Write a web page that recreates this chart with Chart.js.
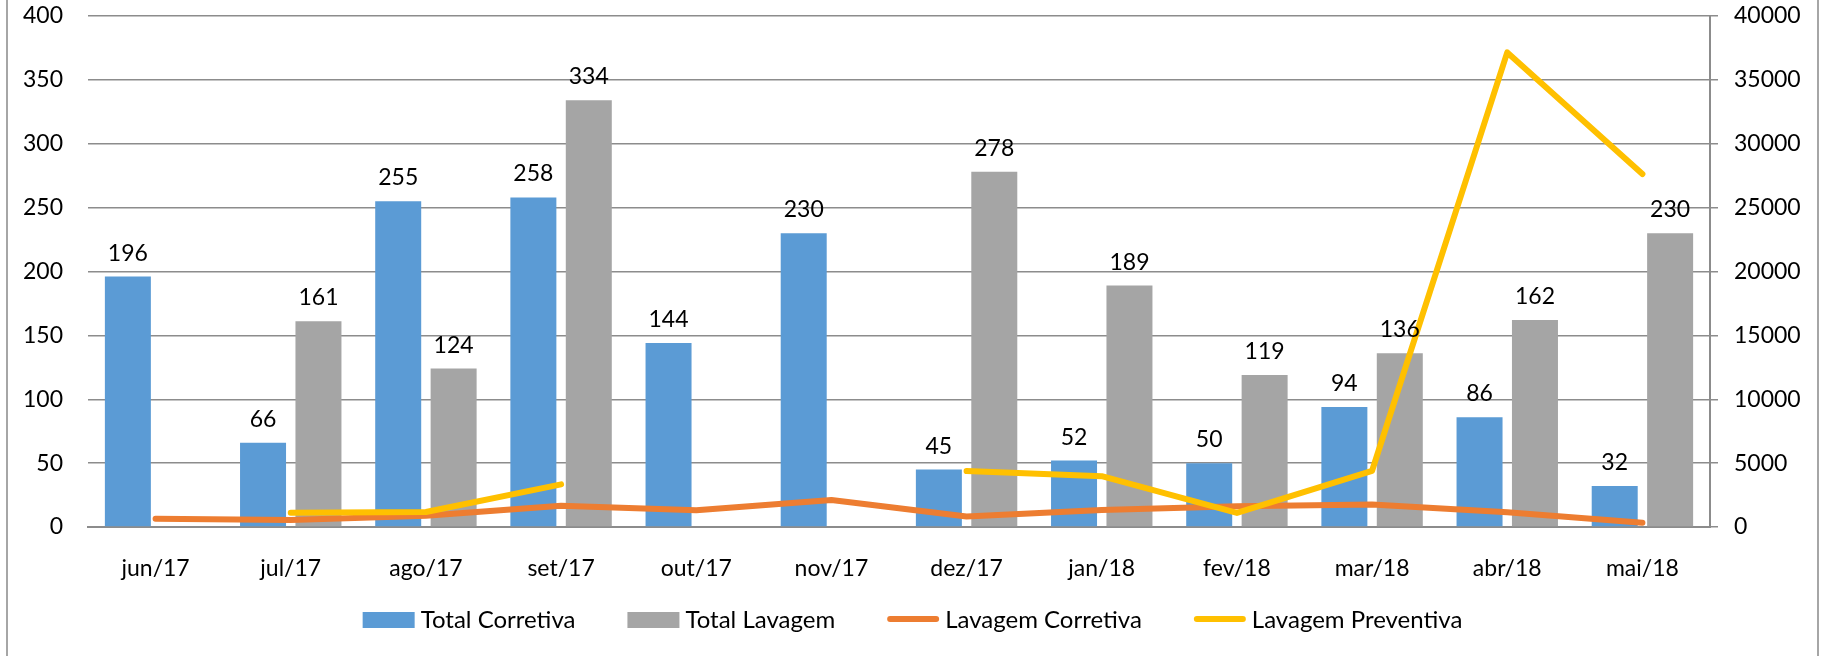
<!DOCTYPE html>
<html>
<head>
<meta charset="utf-8">
<script src="https://cdn.jsdelivr.net/npm/chart.js@4.4.1/dist/chart.umd.min.js"></script>
<style>
  html, body { margin: 0; padding: 0; background: #fff; }
  #wrap { width: 1825px; height: 656px; }
</style>
</head>
<body>
<div id="wrap"><canvas id="grafico" width="1825" height="656"></canvas></div>
<script>
// dados
const meses = ['jun/17','jul/17','ago/17','set/17','out/17','nov/17','dez/17','jan/18','fev/18','mar/18','abr/18','mai/18'];
const totalCorretiva = [196, 66, 255, 258, 144, 230, 45, 52, 50, 94, 86, 32];
const totalLavagem = [null, 161, 124, 334, null, null, 278, 189, 119, 136, 162, 230];
const lavagemCorretiva = [650, 550, 880, 1670, 1310, 2110, 830, 1330, 1620, 1760, 1160, 340];
const lavagemPreventiva = [null, 1120, 1170, 3340, null, null, 4380, 3980, 1100, 4400, 37150, 27630];

const ticksEsq = { min: 0, max: 400, step: 50 };
const ticksDir = { min: 0, max: 40000, step: 5000 };

const FONTE = 'Lato, "Liberation Sans", sans-serif';
const CINZA_GRADE = '#8c8c8c';

// rotulos de valor em cima das barras
const rotulosBarras = {
  id: 'rotulosBarras',
  afterDatasetsDraw(chart) {
    const ctx = chart.ctx;
    ctx.save();
    ctx.font = '23px ' + FONTE;
    ctx.fillStyle = '#000';
    ctx.textAlign = 'center';
    ctx.textBaseline = 'alphabetic';
    chart.data.datasets.forEach((ds, i) => {
      if (ds.type !== 'bar') return;
      const meta = chart.getDatasetMeta(i);
      meta.data.forEach((bar, j) => {
        if (ds.data[j] == null) return;
        ctx.fillText(String(ds.data[j]), bar.x, bar.y - 16);
      });
    });
    ctx.restore();
  }
};

// legenda e moldura desenhadas a mao (estilo excel)
const legendaExcel = {
  id: 'legendaExcel',
  afterDraw(chart) {
    const ctx = chart.ctx;
    ctx.save();
    // moldura lateral
    ctx.strokeStyle = '#a6a6a6';
    ctx.lineWidth = 2;
    ctx.beginPath();
    ctx.moveTo(7, 0); ctx.lineTo(7, 656);
    ctx.moveTo(1818, 0); ctx.lineTo(1818, 656);
    ctx.stroke();

    ctx.font = '24px ' + FONTE;
    ctx.textBaseline = 'middle';
    ctx.textAlign = 'left';
    const caixa = 52, espaco = 6, entre = 52, yc = 620;
    const itens = chart.data.datasets.map(ds => ({
      texto: ds.label,
      tipo: ds.type,
      cor: ds.type === 'bar' ? ds.backgroundColor : ds.borderColor,
      w: caixa + espaco + ctx.measureText(ds.label).width
    }));
    let total = itens.reduce((s, it) => s + it.w, 0) + entre * (itens.length - 1);
    let x = (chart.width - total) / 2;
    itens.forEach(it => {
      if (it.tipo === 'bar') {
        ctx.fillStyle = it.cor;
        ctx.fillRect(x, yc - 8, caixa, 16);
      } else {
        ctx.strokeStyle = it.cor;
        ctx.lineWidth = 6;
        ctx.lineCap = 'round';
        ctx.beginPath();
        ctx.moveTo(x + 3, yc - 1);
        ctx.lineTo(x + caixa - 3, yc - 1);
        ctx.stroke();
      }
      ctx.fillStyle = '#000';
      ctx.fillText(it.texto, x + caixa + espaco, yc);
      x += it.w + entre;
    });
    ctx.restore();
  }
};

function semPadding(scale) {
  scale.paddingTop = 0;
  scale.paddingBottom = 0;
}

const ctx = document.getElementById('grafico').getContext('2d');
const grafico = new Chart(ctx, {
  data: {
    labels: meses,
    datasets: [
      {
        type: 'bar',
        label: 'Total Corretiva',
        data: totalCorretiva,
        backgroundColor: '#5B9BD5',
        yAxisID: 'y',
        order: 3,
        categoryPercentage: 0.82,
        barPercentage: 0.83
      },
      {
        type: 'bar',
        label: 'Total Lavagem',
        data: totalLavagem,
        backgroundColor: '#A5A5A5',
        yAxisID: 'y',
        order: 3,
        categoryPercentage: 0.82,
        barPercentage: 0.83
      },
      {
        type: 'line',
        label: 'Lavagem Corretiva',
        data: lavagemCorretiva,
        borderColor: '#ED7D31',
        backgroundColor: '#ED7D31',
        borderWidth: 6,
        borderCapStyle: 'round',
        borderJoinStyle: 'round',
        pointRadius: 0,
        tension: 0,
        yAxisID: 'y1',
        order: 2
      },
      {
        type: 'line',
        label: 'Lavagem Preventiva',
        data: lavagemPreventiva,
        borderColor: '#FFC000',
        backgroundColor: '#FFC000',
        borderWidth: 6,
        borderCapStyle: 'round',
        borderJoinStyle: 'round',
        pointRadius: 0,
        tension: 0,
        spanGaps: false,
        yAxisID: 'y1',
        order: 1
      }
    ]
  },
  options: {
    responsive: false,
    devicePixelRatio: 1,
    animation: false,
    layout: { padding: { left: 0, right: 0, top: 16, bottom: 0 } },
    plugins: {
      legend: { display: false },
      tooltip: { enabled: false }
    },
    scales: {
      x: {
        grid: { display: false },
        border: { display: true, color: CINZA_GRADE, width: 2 },
        ticks: { color: '#000', font: { family: FONTE, size: 23 }, padding: 20, maxRotation: 0 },
        afterFit(scale) { scale.height = 129; }
      },
      y: {
        position: 'left',
        min: ticksEsq.min,
        max: ticksEsq.max,
        ticks: { stepSize: ticksEsq.step, color: '#000', font: { family: FONTE, size: 23 }, padding: 25 },
        grid: { color: CINZA_GRADE, lineWidth: 1.5, drawTicks: false },
        border: { display: false },
        afterFit(scale) { scale.width = 88; semPadding(scale); }
      },
      y1: {
        position: 'right',
        min: ticksDir.min,
        max: ticksDir.max,
        ticks: {
          stepSize: ticksDir.step, color: '#000', font: { family: FONTE, size: 23 }, padding: 16,
          callback: v => String(v)
        },
        grid: { drawOnChartArea: false, color: CINZA_GRADE, lineWidth: 1.5, tickLength: 8 },
        border: { display: true, color: CINZA_GRADE, width: 2 },
        afterFit(scale) { scale.width = 115; semPadding(scale); }
      }
    }
  },
  plugins: [rotulosBarras, legendaExcel]
});
</script>
</body>
</html>
